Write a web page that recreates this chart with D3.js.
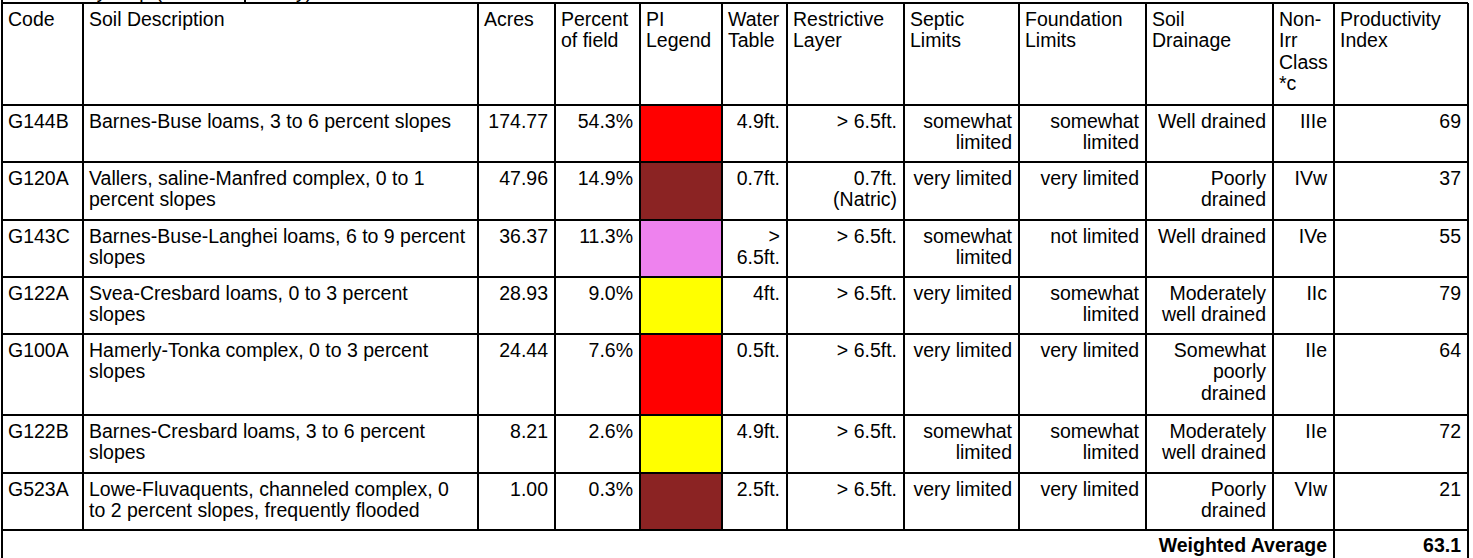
<!DOCTYPE html>
<html>
<head>
<meta charset="utf-8">
<script src="https://cdn.jsdelivr.net/npm/d3@7"></script>
<style>
  body { margin: 0; background: #fff; }
  svg text { font-family: "Liberation Sans", Arial, sans-serif; font-size: 19.5px; fill: #000; }
</style>
</head>
<body>
<div id="chart"></div>
<script>
// table contents, "|" marks a line break inside a cell
var headers = ["Code", "Soil Description", "Acres", "Percent|of field", "PI|Legend", "Water|Table",
               "Restrictive|Layer", "Septic|Limits", "Foundation|Limits", "Soil|Drainage",
               "Non-|Irr|Class|*c", "Productivity|Index"];
var codes = ["G144B", "G120A", "G143C", "G122A", "G100A", "G122B", "G523A"];
var descriptions = [
    "Barnes-Buse loams, 3 to 6 percent slopes",
    "Vallers, saline-Manfred complex, 0 to 1|percent slopes",
    "Barnes-Buse-Langhei loams, 6 to 9 percent|slopes",
    "Svea-Cresbard loams, 0 to 3 percent|slopes",
    "Hamerly-Tonka complex, 0 to 3 percent|slopes",
    "Barnes-Cresbard loams, 3 to 6 percent|slopes",
    "Lowe-Fluvaquents, channeled complex, 0|to 2 percent slopes, frequently flooded"
];
var acres = [174.77, 47.96, 36.37, 28.93, 24.44, 8.21, 1.00];
var percents = [54.3, 14.9, 11.3, 9.0, 7.6, 2.6, 0.3];
var waterTable = ["4.9ft.", "0.7ft.", ">|6.5ft.", "4ft.", "0.5ft.", "4.9ft.", "2.5ft."];
var restrictive = ["> 6.5ft.", "0.7ft.|(Natric)", "> 6.5ft.", "> 6.5ft.", "> 6.5ft.", "> 6.5ft.", "> 6.5ft."];
var septic = ["somewhat|limited", "very limited", "somewhat|limited", "very limited", "very limited", "somewhat|limited", "very limited"];
var foundation = ["somewhat|limited", "very limited", "not limited", "somewhat|limited", "very limited", "somewhat|limited", "very limited"];
var drainage = ["Well drained", "Poorly|drained", "Well drained", "Moderately|well drained", "Somewhat|poorly|drained", "Moderately|well drained", "Poorly|drained"];
var nonIrrClass = ["IIIe", "IVw", "IVe", "IIc", "IIe", "IIe", "VIw"];
var productivity = [69, 37, 55, 79, 64, 72, 21];
var weightedAverage = 63.1;
var piBreaks = [40, 60, 70];
var piColors = ["#8b2323", "#ee82ee", "#ff0000", "#ffff00"];

// layout
var W = 1473, H = 558;
var colEdges = [2, 83, 478, 555, 640, 722, 787, 904, 1019, 1146, 1273, 1334, 1468];
var rowHeights = [102, 57, 58, 57, 57, 81, 58, 57, 32];
var aligns = ["start", "start", "end", "end", "none", "end", "end", "end", "end", "end", "end", "end"];
var padL = 6, padR = 7, baseOff = 23, lineH = 21.3;

var rowEdges = [3].concat(Array.from(d3.cumsum(rowHeights), function(v) { return v + 3; }));

var colIndex = d3.range(headers.length);
var xLeft = d3.scaleOrdinal().domain(colIndex).range(colEdges.slice(0, -1));
var xRight = d3.scaleOrdinal().domain(colIndex).range(colEdges.slice(1));
var yTop = d3.scaleOrdinal().domain(d3.range(rowHeights.length)).range(rowEdges.slice(0, -1));
var piColor = d3.scaleThreshold().domain(piBreaks).range(piColors);

var svg = d3.select("#chart")
            .append("svg")
            .attr("width", W)
            .attr("height", H);

svg.append("rect").attr("width", W).attr("height", H).attr("fill", "#fff");

// build rows of cell strings
var rows = codes.map(function(c, i) {
    return [c, descriptions[i], d3.format(".2f")(acres[i]), d3.format(".1f")(percents[i]) + "%", "",
            waterTable[i], restrictive[i], septic[i], foundation[i], drainage[i], nonIrrClass[i],
            String(productivity[i])];
});
var allRows = [headers].concat(rows);

// PI legend fills
svg.selectAll("rect.pi")
   .data(productivity)
   .enter()
   .append("rect")
   .attr("class", "pi")
   .attr("x", xLeft(4))
   .attr("y", function(d, i) { return yTop(i + 1); })
   .attr("width", xRight(4) - xLeft(4))
   .attr("height", function(d, i) { return rowHeights[i + 1]; })
   .attr("fill", function(d) { return piColor(d); });

// cell text
allRows.forEach(function(cells, r) {
    cells.forEach(function(txt, c) {
        if (!txt || r > 0 && aligns[c] === "none") return;
        var anchor = r === 0 ? "start" : aligns[c];
        var x = anchor === "end" ? xRight(c) - padR : xLeft(c) + padL;
        var t = svg.append("text")
                   .attr("x", x)
                   .attr("y", yTop(r) + baseOff)
                   .attr("text-anchor", anchor);
        txt.split("|").forEach(function(line, k) {
            t.append("tspan")
             .attr("x", x)
             .attr("dy", k === 0 ? 0 : lineH)
             .text(line);
        });
    });
});

// weighted average row
var waTop = yTop(rowHeights.length - 1);
svg.append("text")
   .attr("x", xLeft(11) - padR)
   .attr("y", waTop + 22)
   .attr("text-anchor", "end")
   .attr("font-weight", "bold")
   .text("Weighted Average");
svg.append("text")
   .attr("x", xRight(11) - padR)
   .attr("y", waTop + 22)
   .attr("text-anchor", "end")
   .attr("font-weight", "bold")
   .text(d3.format(".1f")(weightedAverage));

// grid lines
var grid = svg.append("g").attr("stroke", "#000").attr("stroke-width", 2).attr("fill", "none");
rowEdges.forEach(function(y) {
    grid.append("line").attr("x1", colEdges[0]).attr("x2", colEdges[colEdges.length - 1])
        .attr("y1", y).attr("y2", y);
});
colEdges.forEach(function(x, i) {
    var full = i === 0 || i === colEdges.length - 1 || i === colEdges.length - 2;
    grid.append("line").attr("x1", x).attr("x2", x)
        .attr("y1", rowEdges[0])
        .attr("y2", full ? rowEdges[rowEdges.length - 1] : waTop);
});

// title box above the table, mostly cut off by the page top
grid.append("line").attr("x1", 245).attr("x2", 245).attr("y1", 0).attr("y2", 3);
grid.append("line").attr("x1", 2).attr("x2", 2).attr("y1", 0).attr("y2", 3);
svg.append("text")
   .attr("x", 8)
   .attr("y", -2)
   .text("Soil Survey Map (Web Soil Survey)");
</script>
</body>
</html>
